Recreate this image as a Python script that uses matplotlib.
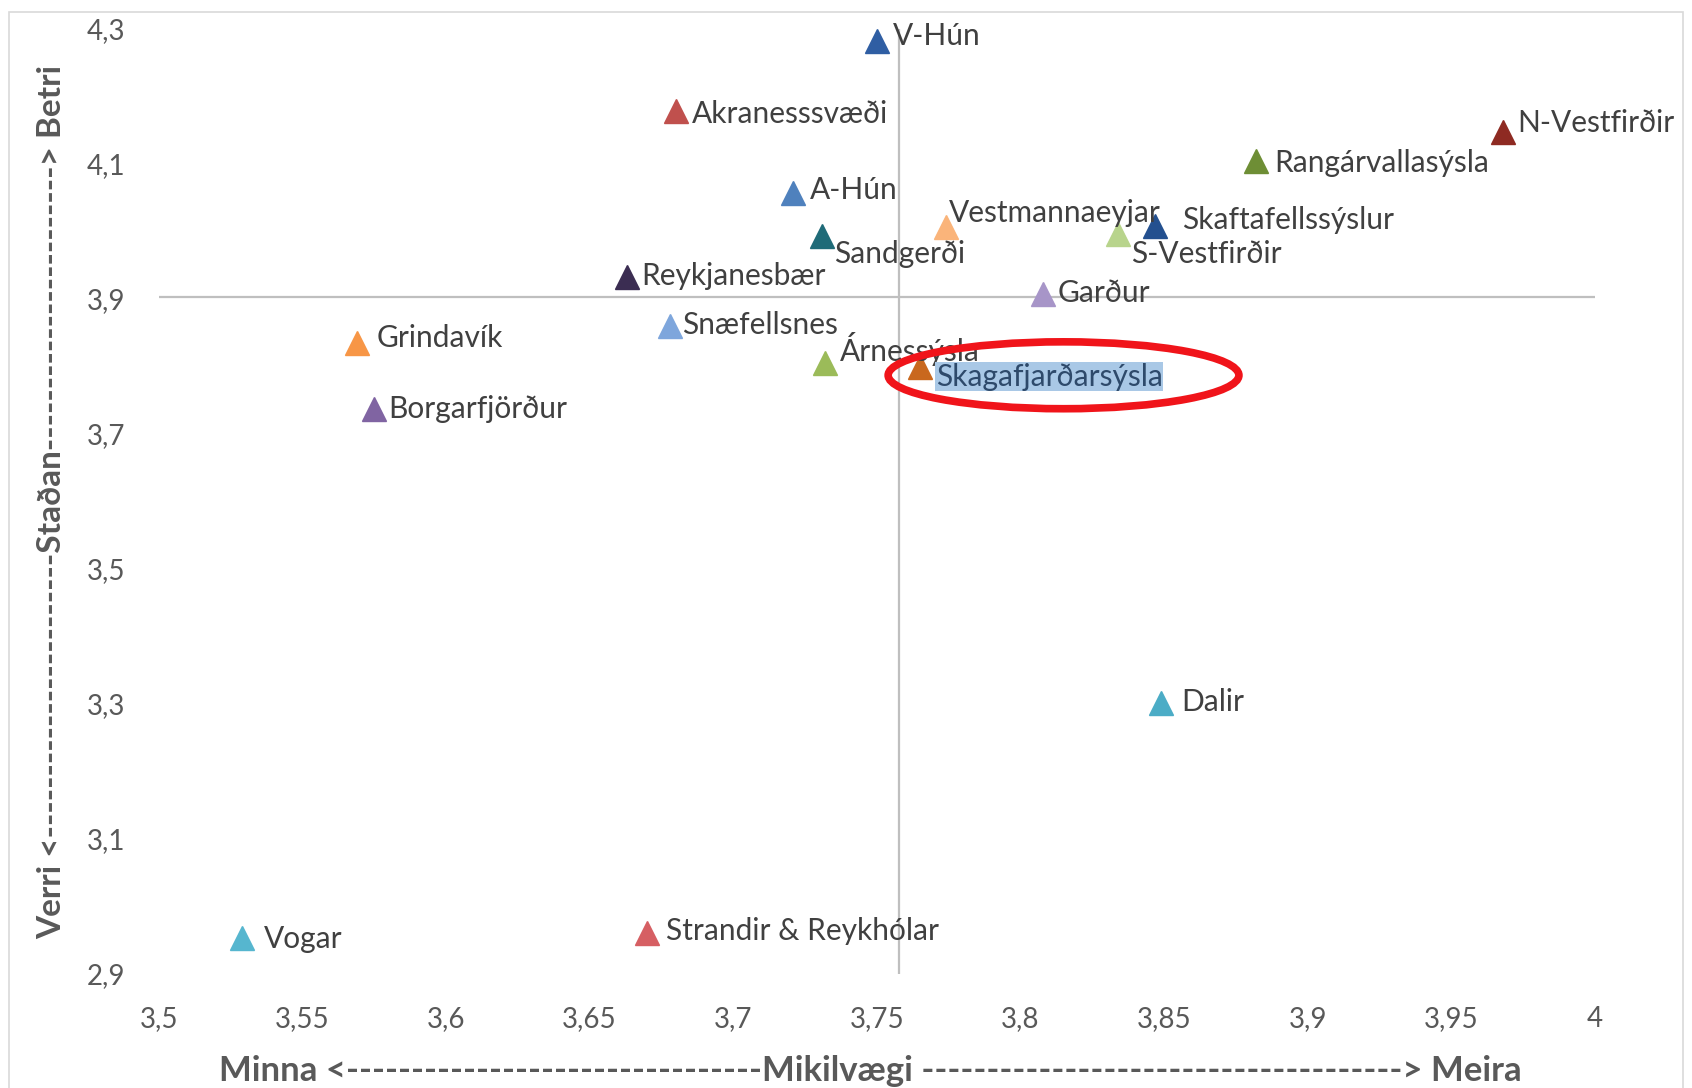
import matplotlib
matplotlib.use("Agg")
import matplotlib.pyplot as plt
from matplotlib.patches import Ellipse, Rectangle

plt.rcParams['font.family'] = ['Lato', 'DejaVu Sans']

names = ["V-Hún", "Akranesssvæði", "A-Hún", "Sandgerði", "Reykjanesbær", "Snæfellsnes",
         "Grindavík", "Borgarfjörður", "Árnessýsla", "Skagafjarðarsýsla", "Vestmannaeyjar",
         "S-Vestfirðir", "Skaftafellssýslur", "Garður", "Rangárvallasýsla", "N-Vestfirðir",
         "Dalir", "Vogar", "Strandir & Reykhólar"]
mikilvaegi = [3.750, 3.680, 3.721, 3.731, 3.663, 3.678,
              3.569, 3.575, 3.732, 3.765, 3.774,
              3.834, 3.847, 3.808, 3.882, 3.968,
              3.849, 3.529, 3.670]
stadan = [4.282, 4.179, 4.057, 3.993, 3.932, 3.860,
          3.835, 3.737, 3.805, 3.800, 4.006,
          3.996, 4.008, 3.908, 4.105, 4.147,
          3.301, 2.953, 2.961]
colors = ["#2F5EA3", "#C0504D", "#4F81BD", "#1F6B78", "#3B2D52", "#7EA6DC",
          "#F79646", "#8064A2", "#9BBB59", "#C9681E", "#FAB47A",
          "#B8D48C", "#23508F", "#A795C8", "#6E8E35", "#8E2A22",
          "#4BACC6", "#56B6CF", "#D65F63"]
# label offsets (pixels) relative to marker
offsets = [(16, 5), (16, -3), (16, 3), (12, -18), (14, 1), (12, 1),
           (20, 5), (14, 0), (15, 14), (16, -10), (3, 14),
           (13, -20), (27, 6), (14, 1), (18, -2), (14, 9),
           (20, 1), (22, -1), (19, 2)]

mean_x = 3.7577
mean_y = 3.9036
x_ticks = [3.5, 3.55, 3.6, 3.65, 3.7, 3.75, 3.8, 3.85, 3.9, 3.95, 4.0]
x_ticklabels = ["3,5", "3,55", "3,6", "3,65", "3,7", "3,75", "3,8", "3,85", "3,9", "3,95", "4"]
y_ticks = [2.9, 3.1, 3.3, 3.5, 3.7, 3.9, 4.1, 4.3]
y_ticklabels = ["2,9", "3,1", "3,3", "3,5", "3,7", "3,9", "4,1", "4,3"]
highlight = "Skagafjarðarsýsla"

fig = plt.figure(figsize=(16.92, 10.88), dpi=100)
ax = fig.add_axes([158.6/1692, 1-974/1088, (1595-158.6)/1692, (974-29)/1088])

# chart area border
fig.patches.append(Rectangle((9/1692, -0.05), (1683-9)/1692, 1.05 - 11.5/1088,
                             transform=fig.transFigure, fill=False,
                             edgecolor="#D9D9D9", linewidth=1.2))

ax.set_xlim(3.5, 4.0)
ax.set_ylim(2.9, 4.3)
ax.axvline(mean_x, color="#BFBFBF", linewidth=1.6, zorder=1)
ax.axhline(mean_y, color="#BFBFBF", linewidth=1.6, zorder=1)

for n, x, y, c, off in zip(names, mikilvaegi, stadan, colors, offsets):
    ax.plot(x, y, marker="^", markersize=17, color=c, linestyle="none", zorder=3)
    if n == highlight:
        ax.annotate(n, (x, y), xytext=off, textcoords="offset pixels", fontsize=21.5,
                    color="#2E4A6B", va="center", ha="left", zorder=4,
                    bbox=dict(facecolor="#A9C8E6", edgecolor="none", pad=0.5))
        ell = Ellipse((x + 0.050, y - 0.013), 0.1221, 0.0991, fill=False,
                      edgecolor="#F0141A", linewidth=5.5, zorder=5)
        ax.add_patch(ell)
    else:
        ax.annotate(n, (x, y), xytext=off, textcoords="offset pixels", fontsize=21.5,
                    color="#404040", va="center", ha="left", zorder=4)

ax.set_xticks(x_ticks)
ax.set_xticklabels(x_ticklabels)
ax.set_yticks(y_ticks)
ax.set_yticklabels(y_ticklabels)
ax.tick_params(axis="both", length=0, labelsize=20, labelcolor="#595959")
ax.tick_params(axis="x", pad=23)
ax.tick_params(axis="y", pad=24)
for s in ax.spines.values():
    s.set_visible(False)

xtitle = "Minna <" + "-" * 32 + "Mikilvægi " + "-" * 37 + "> Meira"
ytitle = "Verri <" + "-" * 23 + "Staðan" + "-" * 23 + "> Betri"
fig.text(219/1692, 1 - 1071/1088, xtitle, ha="left", va="center", fontsize=25,
         fontweight="bold", color="#595959")
fig.text(52/1692, 1 - 502/1088, ytitle, ha="center", va="center", fontsize=24,
         fontweight="bold", color="#595959", rotation=90)

fig.savefig("out.png", dpi=100)
